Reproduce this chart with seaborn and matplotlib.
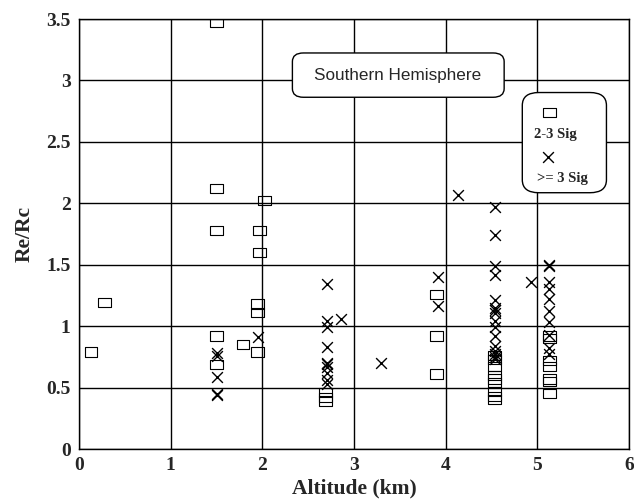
import numpy as np
import pandas as pd
import matplotlib
matplotlib.use("Agg")
import matplotlib.pyplot as plt
import seaborn as sns
from matplotlib.patches import FancyBboxPatch
from matplotlib.path import Path

# 2-3 sigma detections
sq_alt = [0.13, 0.28,
          1.50, 1.50, 1.50, 1.50, 1.50,
          1.79,
          1.97, 1.97, 1.95, 1.95, 1.95,
          2.02,
          2.69, 2.69, 2.69,
          3.90, 3.90, 3.90,
          4.53, 4.53, 4.53, 4.53, 4.53, 4.53, 4.53, 4.53, 4.53,
          5.13, 5.13, 5.13, 5.13, 5.13, 5.13, 5.13]
sq_ratio = [0.79, 1.19,
            3.47, 2.12, 1.78, 0.92, 0.69,
            0.85,
            1.78, 1.60, 1.18, 1.11, 0.79,
            2.02,
            0.46, 0.42, 0.39,
            1.26, 0.92, 0.61,
            0.76, 0.73, 0.67, 0.60, 0.57, 0.54, 0.47, 0.43, 0.40,
            0.92, 0.90, 0.72, 0.67, 0.57, 0.55, 0.45]

# >= 3 sigma detections
x_alt = [1.50, 1.50, 1.50, 1.50, 1.50,
         1.95,
         2.70, 2.70, 2.70, 2.70, 2.70, 2.70, 2.70, 2.70, 2.70, 2.70,
         2.86,
         3.30,
         3.92, 3.92,
         4.14,
         4.54, 4.54, 4.54, 4.54, 4.54, 4.54, 4.54, 4.54, 4.54, 4.54,
         4.54, 4.54, 4.54, 4.54, 4.54, 4.54,
         4.93,
         5.13, 5.13, 5.13, 5.13, 5.13, 5.13, 5.13, 5.13, 5.13, 5.13]
x_ratio = [0.78, 0.76, 0.59, 0.45, 0.44,
           0.91,
           1.34, 1.04, 0.99, 0.83, 0.70, 0.69, 0.67, 0.62, 0.56, 0.53,
           1.06,
           0.70,
           1.40, 1.16,
           2.07,
           1.97, 1.74, 1.49, 1.42, 1.21, 1.15, 1.13, 1.11, 1.04, 0.99,
           0.92, 0.84, 0.80, 0.77, 0.75, 0.73,
           1.36,
           1.50, 1.49, 1.36, 1.30, 1.22, 1.12, 1.03, 0.93, 0.82, 0.77]

x_ticks = [0, 1, 2, 3, 4, 5, 6]
y_ticks = [0, 0.5, 1, 1.5, 2, 2.5, 3, 3.5]
y_tick_labels = ["0", "0.5", "1", "1.5", "2", "2.5", "3", "3.5"]

df_sq = pd.DataFrame({"alt": sq_alt, "ratio": sq_ratio})
df_x = pd.DataFrame({"alt": x_alt, "ratio": x_ratio})

sns.set_style("white")
plt.rcParams["font.family"] = ["Liberation Serif", "DejaVu Serif"]

fig = plt.figure(figsize=(6.34, 5.03), dpi=100)
ax = fig.add_axes([79 / 634, 1 - 449 / 503, 550 / 634, 430 / 503])

# wide open rectangle marker
rect = Path([(-1, -0.72), (1, -0.72), (1, 0.72), (-1, 0.72), (-1, -0.72)],
            [Path.MOVETO, Path.LINETO, Path.LINETO, Path.LINETO, Path.CLOSEPOLY])

sns.scatterplot(data=df_sq, x="alt", y="ratio", ax=ax, marker=rect, s=85,
                facecolors="none", edgecolor="black", linewidth=0.8, zorder=3)
sns.scatterplot(data=df_x, x="alt", y="ratio", ax=ax, marker="x", s=60,
                color="black", linewidth=1.0, zorder=3)

ax.set_xlim(0, 6)
ax.set_ylim(0, 3.5)
ax.set_xticks(x_ticks)
ax.set_yticks(y_ticks)
ax.set_yticklabels(y_tick_labels)
ax.grid(True, color="black", linewidth=1.0)
ax.set_axisbelow(True)
for sp in ax.spines.values():
    sp.set_color("black")
    sp.set_linewidth(1.0)
ax.tick_params(axis="both", direction="out", length=4, width=1, color="black",
               labelsize=14, pad=2)
for lbl in ax.get_xticklabels() + ax.get_yticklabels():
    lbl.set_fontweight("bold")

ax.set_xlabel("Altitude (km)", fontsize=15.5, fontweight="bold", labelpad=3)
ax.set_ylabel("Re/Rc", fontsize=15.5, fontweight="bold", labelpad=8)

# title box
title_box = FancyBboxPatch((0.388, 0.818), 0.385, 0.103,
                           boxstyle="round,pad=0,rounding_size=0.02",
                           transform=ax.transAxes, facecolor="white",
                           edgecolor="black", linewidth=1.0, zorder=4)
ax.add_patch(title_box)
ax.text(0.58, 0.868, "Southern Hemisphere", transform=ax.transAxes,
        ha="center", va="center", fontsize=12.3, fontweight="medium",
        family=["Liberation Sans", "DejaVu Sans"], zorder=5)

# legend box
leg_box = FancyBboxPatch((0.806, 0.596), 0.153, 0.233,
                         boxstyle="round,pad=0,rounding_size=0.03",
                         transform=ax.transAxes, facecolor="white",
                         edgecolor="black", linewidth=1.0, zorder=4)
ax.add_patch(leg_box)
ax.scatter([0.855], [0.783], transform=ax.transAxes, marker=rect, s=85,
           facecolors="none", edgecolors="black", linewidths=0.8, zorder=5)
ax.text(0.867, 0.731, "2-3 Sig", transform=ax.transAxes, ha="center",
        va="center", fontsize=10.5, fontweight="bold", zorder=5)
ax.scatter([0.853], [0.679], transform=ax.transAxes, marker="x", s=60,
           color="black", linewidths=1.0, zorder=5)
ax.text(0.879, 0.630, ">= 3 Sig", transform=ax.transAxes, ha="center",
        va="center", fontsize=10.5, fontweight="bold", zorder=5)

fig.savefig("out.png", dpi=100)
